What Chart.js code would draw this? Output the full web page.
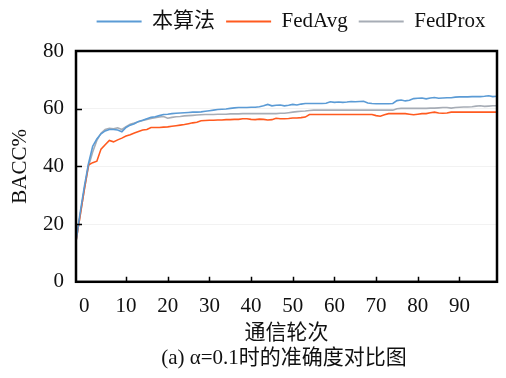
<!DOCTYPE html>
<html><head><meta charset="utf-8">
<script src="https://cdn.jsdelivr.net/npm/chart.js@4/dist/chart.umd.min.js"></script>
<style>html,body{margin:0;padding:0;background:#fff}#wrap{width:506px;height:378px}</style>
</head><body><div id="wrap"><canvas id="c" width="506" height="378"></canvas></div>
<script>
const rounds = [-2,-1,0,1,2,3,4,5,6,7,8,9,10,11,12,13,14,15,16,17,18,19,20,21,22,23,24,25,26,27,28,29,30,31,32,33,34,35,36,37,38,39,40,41,42,43,44,45,46,47,48,49,50,51,52,53,54,55,56,57,58,59,60,61,62,63,64,65,66,67,68,69,70,71,72,73,74,75,76,77,78,79,80,81,82,83,84,85,86,87,88,89,90,91,92,93,94,95,96,97,98,99];
const ours = [14,24,33,41,47,49.5,51.3,52.3,52.8,52.8,52.6,52.0,53.5,54.3,54.8,55.6,56.0,56.5,57.0,57.2,57.6,58.0,58.1,58.3,58.4,58.5,58.6,58.7,58.8,58.8,58.9,59.1,59.3,59.5,59.7,59.8,59.9,60.1,60.3,60.4,60.4,60.4,60.5,60.5,60.7,61.0,61.5,61.0,61.2,61.3,61.0,61.2,61.5,61.3,61.6,61.8,61.8,61.8,61.8,61.8,61.9,62.4,62.2,62.3,62.2,62.3,62.5,62.4,62.5,62.6,62.0,61.8,61.7,61.7,61.7,61.7,61.8,62.8,63.0,62.7,62.9,63.5,63.6,63.7,63.4,63.7,63.9,63.6,63.7,63.8,63.8,64.0,64.1,64.1,64.1,64.2,64.2,64.2,64.3,64.5,64.2,64.3];
const fedAvg = [14,23,32,40.5,41.3,41.8,46,47.5,49,48.5,49.2,49.8,50.5,51,51.6,52.1,52.6,52.8,53.5,53.5,53.5,53.6,53.7,53.9,54.1,54.3,54.5,54.8,55.1,55.3,55.8,55.9,56.0,56.0,56.1,56.1,56.2,56.2,56.3,56.3,56.5,56.5,56.3,56.2,56.4,56.3,56.1,56.2,56.7,56.5,56.5,56.6,56.8,56.8,56.9,57.1,58.0,58.0,58.0,58.0,58.0,58.0,58.0,58.0,58.0,58.0,58.0,58.0,58.0,58.0,58.0,58.0,57.6,57.4,57.9,58.3,58.3,58.3,58.3,58.3,58.1,57.9,58.1,58.3,58.3,58.6,58.8,58.5,58.4,58.5,58.8,58.8,58.8,58.8,58.8,58.8,58.8,58.8,58.8,58.8,58.8,58.8];
const fedProx = [14,23,32,40,45,49,51.5,52.8,53.2,53.0,53.4,52.8,53.8,54.6,55.0,55.5,55.9,56.3,56.6,56.9,57.1,57.3,56.7,57.0,57.2,57.3,57.5,57.6,57.7,57.8,57.9,58.0,58.0,58.0,58.1,58.1,58.1,58.2,58.2,58.2,58.3,58.3,58.3,58.3,58.3,58.3,58.3,58.3,58.3,58.4,58.4,58.6,58.8,59.0,59.1,59.2,59.4,59.5,59.5,59.5,59.5,59.5,59.5,59.5,59.5,59.5,59.5,59.5,59.5,59.5,59.5,59.5,59.5,59.5,59.5,59.5,59.5,60.0,60.1,60.1,60.1,60.1,60.1,60.1,60.1,60.2,60.2,60.3,60.4,60.4,60.2,60.4,60.5,60.6,60.6,60.7,60.9,61.0,60.8,60.9,61.0,61.0];
const xTicks = [0,10,20,30,40,50,60,70,80,90];
const yTicks = [0,20,40,60,80];
const seriesNames = ['本算法','FedAvg','FedProx'];
const seriesColors = ['#5B9BD5','#FF5A1F','#A7ADB6'];
const captionText = '(a) α=0.1时的准确度对比图';

const serif = "'Liberation Serif','Noto Sans CJK SC',serif";
const toXY = arr => arr.map((v,i)=>({x:rounds[i], y:v}));

const legendSpace = {
  id:'legendSpace',
  beforeLayout(chart){
    const lg = chart.legend;
    if (lg && !lg._patched){
      const f = lg.fit.bind(lg);
      lg.fit = function(){ f(); this.height += 9; };
      lg._patched = true;
    }
  },
  afterLayout(chart){
    const shift = (chart.chartArea.left + chart.chartArea.right)/2 - chart.width/2;
    if (chart.legend){ chart.legend.left += shift + 9; chart.legend.right += shift + 9; }
    const cap = chart.boxes.find(b => b.options && b.options.text === captionText);
    if (cap){ cap.left += shift + 2; cap.right += shift + 2; }
  }
};

const innerTicks = {
  id:'innerTicks',
  afterDraw(chart){
    const {ctx, chartArea:a, scales:{x,y}} = chart;
    ctx.save();
    ctx.strokeStyle='#000'; ctx.lineWidth=1.5;
    ctx.beginPath();
    xTicks.forEach(v=>{ if(v===0) return; const px=Math.round(x.getPixelForValue(v))+0.5; ctx.moveTo(px,a.bottom); ctx.lineTo(px,a.bottom-5); });
    yTicks.forEach(v=>{ if(v===0||v===80) return; const py=Math.round(y.getPixelForValue(v))+0.5; ctx.moveTo(a.left,py); ctx.lineTo(a.left+6,py); });
    ctx.stroke();
    ctx.lineWidth=2.5;
    ctx.strokeRect(a.left, a.top, a.right-a.left, a.bottom-a.top);
    ctx.restore();
  }
};

new Chart(document.getElementById('c'), {
  type:'line',
  data:{ datasets: seriesNames.map((n,i)=>({
    label:n, data:toXY([ours,fedAvg,fedProx][i]), borderColor:seriesColors[i], backgroundColor:seriesColors[i], borderWidth:1.6
  }))},
  options:{
    responsive:false, animation:false,
    elements:{ line:{tension:0}, point:{radius:0} },
    layout:{ padding:{left:0,right:9,top:0,bottom:0} },
    plugins:{
      legend:{ position:'top', align:'center',
        labels:{ usePointStyle:true, pointStyle:'line', pointStyleWidth:45, boxHeight:2, padding:11, color:'#111',
          font:{family:serif, size:21},
          generateLabels(chart){
            return chart.data.datasets.map((d,i)=>({text:d.label, strokeStyle:seriesColors[i], fillStyle:seriesColors[i],
              lineWidth:2, pointStyle:'line', datasetIndex:i, fontColor:'#111'}));
          } } },
      subtitle:{ display:true, position:'bottom', text:captionText, color:'#111',
        font:{family:serif, size:21}, padding:{top:0,bottom:7} },
      tooltip:{enabled:false}
    },
    scales:{
      x:{ type:'linear', min:-2, max:99,
        afterBuildTicks(s){ s.ticks = xTicks.map(v=>({value:v})); },
        afterFit(s){ s.height = 64; },
        grid:{ display:false, drawTicks:false },
        border:{ display:false },
        ticks:{ color:'#111', font:{family:serif, size:21}, padding:12, maxRotation:0, autoSkip:false },
        title:{ display:true, text:'通信轮次', color:'#111', font:{family:serif, size:21}, padding:{top:0,bottom:0} }
      },
      y:{ min:0, max:80,
        afterBuildTicks(s){ s.ticks = yTicks.map(v=>({value:v})); },
        afterFit(s){ s.width = 76; },
        grid:{ color:'#f2f2f2', drawTicks:false },
        border:{ display:false },
        ticks:{ color:'#111', font:{family:serif, size:21}, padding:12 },
        title:{ display:true, text:'BACC%', color:'#111', font:{family:serif, size:21}, padding:{top:8,bottom:4} }
      }
    }
  },
  plugins:[legendSpace, innerTicks]
});
</script></body></html>
